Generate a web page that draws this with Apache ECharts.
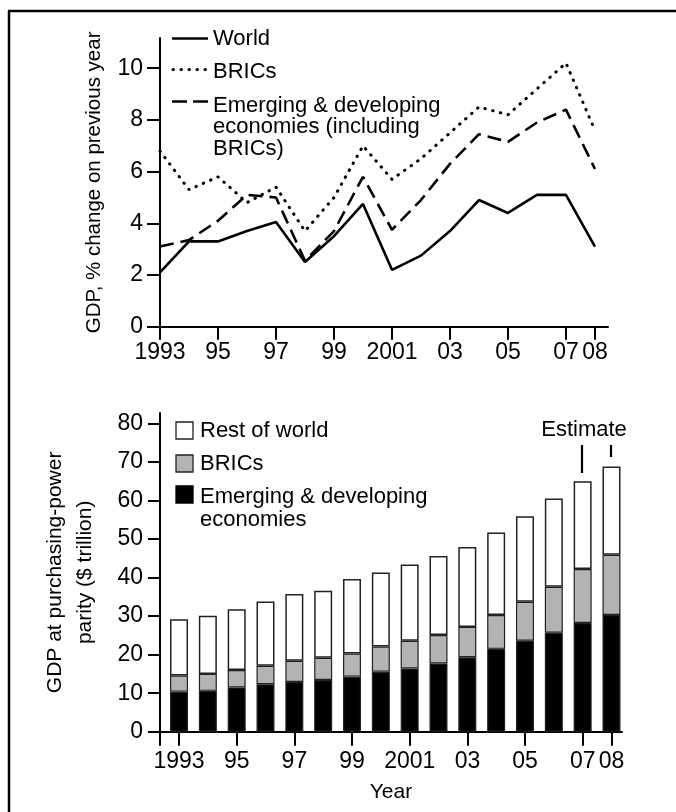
<!DOCTYPE html>
<html>
<head>
<meta charset="utf-8">
<script src="https://cdn.jsdelivr.net/npm/echarts@6/dist/echarts.min.js"></script>
<style>
  html, body { margin: 0; padding: 0; background: #fff; overflow: hidden; }
  #chart { width: 676px; height: 812px; }
</style>
</head>
<body>
<div id="chart"></div>
<script>
// years shown on both panels
var years = [1993,1994,1995,1996,1997,1998,1999,2000,2001,2002,2003,2004,2005,2006,2007,2008];
var tickYears = [1993,1995,1997,1999,2001,2003,2005,2007,2008];

// top panel: GDP, % change on previous year
var worldGrowth    = [2.1,3.3,3.3,3.7,4.05,2.5,3.5,4.75,2.2,2.75,3.7,4.9,4.4,5.1,5.1,3.1];
var bricsGrowth    = [6.8,5.3,5.8,4.8,5.4,3.7,5.0,7.0,5.7,6.5,7.5,8.5,8.2,9.2,10.2,7.6];
var emergingGrowth = [3.1,3.35,4.1,5.1,5.0,2.55,3.7,5.8,3.75,4.9,6.3,7.45,7.15,7.9,8.4,6.1];

// bottom panel: GDP at PPP, $ trillion (stack pieces)
var emergingGdp = [10.4,10.6,11.5,12.3,12.9,13.4,14.3,15.6,16.4,17.7,19.3,21.5,23.6,25.7,28.2,30.3];
var bricsGdp    = [4.2,4.4,4.5,4.8,5.5,5.8,6.0,6.5,7.2,7.4,7.9,8.8,10.1,11.9,14.0,15.6];
var restGdp     = [14.6,15.1,15.8,16.7,17.3,17.4,19.3,19.2,19.8,20.5,20.7,21.4,22.2,22.9,22.8,22.9];

var FONT = '"Liberation Sans", Arial, sans-serif';

function yearLabel(v) {
  if (v === 1993 || v === 2001) return String(v);
  return String(v).slice(2);
}
function pairs(vals) {
  return years.map(function (y, i) { return [y, vals[i]]; });
}

var chart = echarts.init(document.getElementById('chart'));

var blackLine = { color: '#000', width: 2 };
var yMax2 = 82.7;

var option = {
  backgroundColor: '#fff',
  animation: false,
  textStyle: { fontFamily: FONT },
  grid: [
    { left: 160, top: 38, width: 448, height: 288.7 },
    { left: 160, top: 413, width: 462, height: 318.7 },
    // bars sit here, band centres line up with the year axis of grid 1
    { left: 164.6, top: 413, width: 461.3, height: 318.7 }
  ],
  xAxis: [
    {
      type: 'value', gridIndex: 0, min: 1993, max: 2008.45,
      splitLine: { show: false },
      axisLine: { lineStyle: blackLine },
      axisTick: { show: true, length: 13, lineStyle: blackLine, customValues: tickYears },
      axisLabel: { customValues: tickYears, formatter: yearLabel, fontSize: 23, color: '#000', margin: 14, fontFamily: FONT }
    },
    {
      type: 'value', gridIndex: 1, min: 1992.34, max: 2008.36,
      splitLine: { show: false },
      axisLine: { lineStyle: blackLine },
      axisTick: { show: true, length: 14, lineStyle: blackLine, customValues: [1992.34].concat(tickYears) },
      axisLabel: { customValues: tickYears, formatter: yearLabel, fontSize: 23, color: '#000', margin: 18, fontFamily: FONT },
      name: 'Year', nameLocation: 'middle', nameGap: 50,
      nameTextStyle: { fontSize: 21, color: '#000', fontFamily: FONT }
    },
    {
      type: 'category', gridIndex: 2, data: years, show: false
    }
  ],
  yAxis: [
    {
      type: 'value', gridIndex: 0, min: 0, max: 11.17, interval: 2,
      splitLine: { show: false },
      axisLine: { show: true, lineStyle: blackLine },
      axisTick: { show: true, length: 13, lineStyle: blackLine, customValues: [0,2,4,6,8,10] },
      axisLabel: { customValues: [0,2,4,6,8,10], fontSize: 23, color: '#000', margin: 17, fontFamily: FONT },
      name: 'GDP, % change on previous year', nameLocation: 'middle', nameGap: 55,
      nameTextStyle: { fontSize: 20.5, color: '#000', fontFamily: FONT }
    },
    {
      type: 'value', gridIndex: 1, min: 0, max: yMax2, interval: 10,
      splitLine: { show: false },
      axisLine: { show: true, lineStyle: blackLine },
      axisTick: { show: true, length: 12, lineStyle: blackLine, customValues: [0,10,20,30,40,50,60,70,80] },
      axisLabel: { customValues: [0,10,20,30,40,50,60,70,80], fontSize: 23, color: '#000', margin: 17, fontFamily: FONT },
      name: 'GDP at purchasing-power\nparity ($ trillion)', nameLocation: 'middle', nameGap: 60,
      nameTextStyle: { fontSize: 21, color: '#000', fontFamily: FONT, lineHeight: 30 }
    },
    {
      type: 'value', gridIndex: 2, min: 0, max: yMax2, show: false, splitLine: { show: false }
    }
  ],
  series: [
    {
      name: 'World', type: 'line', xAxisIndex: 0, yAxisIndex: 0,
      data: pairs(worldGrowth), symbol: 'none',
      lineStyle: { color: '#000', width: 2.6 }
    },
    {
      name: 'BRICs', type: 'line', xAxisIndex: 0, yAxisIndex: 0,
      data: pairs(bricsGrowth), symbol: 'none',
      lineStyle: { color: '#000', width: 3, type: [0.5, 7.5], cap: 'round' }
    },
    {
      name: 'Emerging', type: 'line', xAxisIndex: 0, yAxisIndex: 0,
      data: pairs(emergingGrowth), symbol: 'none',
      lineStyle: { color: '#000', width: 2.6, type: [14, 7] }
    },
    {
      name: 'Emerging & developing economies', type: 'bar', stack: 'gdp',
      xAxisIndex: 2, yAxisIndex: 2, barWidth: 18,
      data: emergingGdp,
      itemStyle: { color: '#000', borderColor: '#222', borderWidth: 1.2 }
    },
    {
      name: 'BRICs', type: 'bar', stack: 'gdp',
      xAxisIndex: 2, yAxisIndex: 2, barWidth: 18,
      data: bricsGdp,
      itemStyle: { color: '#b3b3b3', borderColor: '#222', borderWidth: 1.2 }
    },
    {
      name: 'Rest of world', type: 'bar', stack: 'gdp',
      xAxisIndex: 2, yAxisIndex: 2, barWidth: 18,
      data: restGdp,
      itemStyle: { color: '#fff', borderColor: '#222', borderWidth: 1.5 }
    }
  ],
  graphic: [
    // frame (left and top edges only)
    { type: 'line', shape: { x1: 9, y1: 11, x2: 9, y2: 830 }, style: { stroke: '#000', lineWidth: 2.5 } },
    { type: 'line', shape: { x1: 8, y1: 11, x2: 700, y2: 11 }, style: { stroke: '#000', lineWidth: 2.5 } },
    // top legend
    { type: 'line', shape: { x1: 172, y1: 38.5, x2: 208, y2: 38.5 }, style: { stroke: '#000', lineWidth: 2.6 } },
    { type: 'text', style: { text: 'World', x: 213, y: 39, fontSize: 22, fontFamily: FONT, fill: '#000', verticalAlign: 'middle' } },
    { type: 'line', shape: { x1: 173, y1: 69.5, x2: 207, y2: 69.5 }, style: { stroke: '#000', lineWidth: 3, lineDash: [0.5, 7.5], lineCap: 'round' } },
    { type: 'text', style: { text: 'BRICs', x: 213, y: 72, fontSize: 22, fontFamily: FONT, fill: '#000', verticalAlign: 'middle' } },
    { type: 'line', shape: { x1: 172, y1: 101.5, x2: 208, y2: 101.5 }, style: { stroke: '#000', lineWidth: 2.6, lineDash: [15, 6] } },
    { type: 'text', style: { text: 'Emerging & developing\neconomies (including\nBRICs)', x: 213, y: 95, fontSize: 22, lineHeight: 21.5, fontFamily: FONT, fill: '#000', verticalAlign: 'top' } },
    // bottom legend
    { type: 'rect', shape: { x: 176, y: 422, width: 17, height: 17 }, style: { fill: '#fff', stroke: '#222', lineWidth: 1.3 } },
    { type: 'text', style: { text: 'Rest of world', x: 200, y: 431, fontSize: 22, fontFamily: FONT, fill: '#000', verticalAlign: 'middle' } },
    { type: 'rect', shape: { x: 176, y: 455, width: 17, height: 17 }, style: { fill: '#b3b3b3', stroke: '#222', lineWidth: 1.3 } },
    { type: 'text', style: { text: 'BRICs', x: 200, y: 464, fontSize: 22, fontFamily: FONT, fill: '#000', verticalAlign: 'middle' } },
    { type: 'rect', shape: { x: 176, y: 486, width: 17, height: 17 }, style: { fill: '#000', stroke: '#000', lineWidth: 1.3 } },
    { type: 'text', style: { text: 'Emerging & developing\neconomies', x: 200, y: 486, fontSize: 22, lineHeight: 22.5, fontFamily: FONT, fill: '#000', verticalAlign: 'top' } },
    // estimate note
    { type: 'text', style: { text: 'Estimate', x: 584, y: 430, fontSize: 22, fontFamily: FONT, fill: '#000', align: 'center', verticalAlign: 'middle' } },
    { type: 'line', shape: { x1: 582, y1: 445, x2: 582, y2: 473 }, style: { stroke: '#000', lineWidth: 2.2 } },
    { type: 'line', shape: { x1: 611, y1: 445, x2: 611, y2: 457 }, style: { stroke: '#000', lineWidth: 2.2 } }
  ]
};

chart.setOption(option);
</script>
</body>
</html>
